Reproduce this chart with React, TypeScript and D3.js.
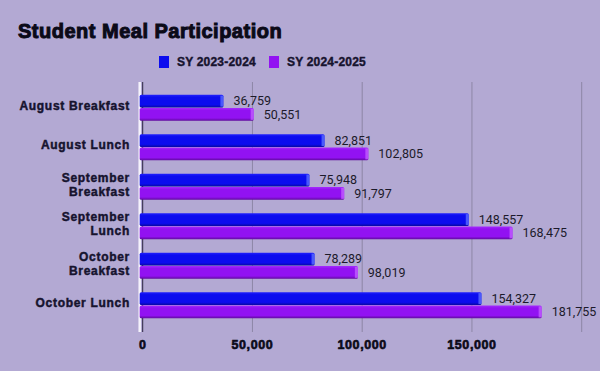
import React, { useEffect, useRef } from "react";
import * as d3 from "d3";

const categories = [
  "August Breakfast",
  "August Lunch",
  "September Breakfast",
  "September Lunch",
  "October Breakfast",
  "October Lunch",
];

// how each category label wraps in the picture
const categoryLines = [
  ["August Breakfast"],
  ["August Lunch"],
  ["September", "Breakfast"],
  ["September", "Lunch"],
  ["October", "Breakfast"],
  ["October Lunch"],
];

const seriesNames = ["SY 2023-2024", "SY 2024-2025"];
const sy2324 = [36759, 82851, 75948, 148557, 78289, 154327];
const sy2425 = [50551, 102805, 91797, 168475, 98019, 181755];
const xTicks = [0, 50000, 100000, 150000, 200000];
const xTickLabels = ["0", "50,000", "100,000", "150,000", ""];

const App: React.FC = () => {
  const svgRef = useRef<SVGSVGElement | null>(null);

  useEffect(() => {
    const width = 600;
    const height = 371;
    const boldFont = "'Liberation Sans', Arial, sans-serif";
    const textColor = "#16132e";

    const svg = d3.select(svgRef.current).attr("width", width).attr("height", height);
    svg.selectAll("*").remove();

    svg.append("rect").attr("width", width).attr("height", height).attr("fill", "#b3a9d3");

    // gradients for the bevelled bars
    const defs = svg.append("defs");
    const colors = [
      { id: "g0", top: "#2222ff", mid: "#0c0cee", bot: "#0707a0", cap: "#5a6bff" },
      { id: "g1", top: "#a52bff", mid: "#9212f2", bot: "#5e0a9a", cap: "#c25cff" },
    ];
    colors.forEach((c) => {
      const g = defs
        .append("linearGradient")
        .attr("id", c.id)
        .attr("x1", 0)
        .attr("y1", 0)
        .attr("x2", 0)
        .attr("y2", 1);
      g.append("stop").attr("offset", "0%").attr("stop-color", c.top);
      g.append("stop").attr("offset", "20%").attr("stop-color", c.mid);
      g.append("stop").attr("offset", "78%").attr("stop-color", c.mid);
      g.append("stop").attr("offset", "100%").attr("stop-color", c.bot);
    });

    // scales
    const xScale = d3.scaleLinear().domain([0, 200000]).range([142.7, 581.7]);
    const yScale = d3.scaleBand<string>().domain(categories).range([88, 325]).padding(0);
    const ySub = d3
      .scaleBand<string>()
      .domain(seriesNames)
      .range([0, yScale.bandwidth()])
      .paddingInner(0.02)
      .paddingOuter(0.5);

    // title
    svg
      .append("text")
      .attr("x", 18)
      .attr("y", 38)
      .attr("font-family", boldFont)
      .attr("font-weight", "bold")
      .attr("font-size", 20)
      .attr("letter-spacing", 0.5)
      .attr("fill", "#0b0a18")
      .attr("stroke", "#0b0a18")
      .attr("stroke-width", 1)
      .text("Student Meal Participation");

    // legend
    const legendX = [159, 269];
    seriesNames.forEach((name, i) => {
      const lg = svg.append("g").attr("transform", `translate(${legendX[i]}, 56)`);
      lg.append("rect")
        .attr("width", 10)
        .attr("height", 12)
        .attr("fill", i === 0 ? "#0c0cee" : "#9212f2");
      lg.append("text")
        .attr("x", 18)
        .attr("y", 6)
        .attr("dy", "0.35em")
        .attr("font-family", boldFont)
        .attr("font-weight", "bold")
        .attr("font-size", 12)
        .attr("letter-spacing", 0.2)
        .attr("fill", textColor)
        .attr("stroke", textColor)
        .attr("stroke-width", 0.4)
        .text(name);
    });

    // grid lines
    svg
      .append("g")
      .selectAll("line")
      .data(xTicks.slice(1))
      .join("line")
      .attr("x1", (d) => xScale(d))
      .attr("x2", (d) => xScale(d))
      .attr("y1", 82)
      .attr("y2", 332)
      .attr("stroke", "#8d86a6")
      .attr("stroke-width", 1);

    // white edge + zero axis line
    svg
      .append("line")
      .attr("x1", xScale(0) - 3)
      .attr("x2", xScale(0) - 3)
      .attr("y1", 82)
      .attr("y2", 332)
      .attr("stroke", "#f4f2fb")
      .attr("stroke-width", 2.5);
    svg
      .append("line")
      .attr("x1", xScale(0))
      .attr("x2", xScale(0))
      .attr("y1", 82)
      .attr("y2", 332)
      .attr("stroke", "#2a2540")
      .attr("stroke-width", 1);

    // x tick labels
    svg
      .append("g")
      .selectAll("text")
      .data(xTicks)
      .join("text")
      .attr("x", (d) => xScale(d))
      .attr("y", 345)
      .attr("dy", "0.35em")
      .attr("text-anchor", "middle")
      .attr("font-family", boldFont)
      .attr("font-weight", "bold")
      .attr("font-size", 12.5)
      .attr("letter-spacing", 0.6)
      .attr("fill", "#0b0a18")
      .attr("stroke", "#0b0a18")
      .attr("stroke-width", 0.6)
      .text((d, i) => xTickLabels[i]);

    // category labels
    categories.forEach((cat, i) => {
      const lines = categoryLines[i];
      const cy = yScale(cat)! + yScale.bandwidth() / 2 - 2;
      const t = svg
        .append("text")
        .attr("x", 130)
        .attr("text-anchor", "end")
        .attr("font-family", boldFont)
        .attr("font-weight", "bold")
        .attr("font-size", 12)
        .attr("letter-spacing", 0.7)
        .attr("fill", textColor)
        .attr("stroke", textColor)
        .attr("stroke-width", 0.45);
      lines.forEach((line, j) => {
        t.append("tspan")
          .attr("x", 130)
          .attr("y", cy + (j - (lines.length - 1) / 2) * 14)
          .attr("dy", "0.35em")
          .text(line);
      });
    });

    // bars
    const allSeries = [sy2324, sy2425];
    allSeries.forEach((values, s) => {
      const g = svg.append("g");
      values.forEach((v, i) => {
        const y0 = yScale(categories[i])! + ySub(seriesNames[s])!;
        const h = ySub.bandwidth();
        const x0 = xScale(0) - 3;
        const x1 = xScale(v);
        g.append("rect")
          .attr("x", x0)
          .attr("y", y0)
          .attr("width", x1 - x0)
          .attr("height", h)
          .attr("rx", 1.5)
          .attr("fill", `url(#g${s})`);
        g.append("rect")
          .attr("x", x1 - 3)
          .attr("y", y0 + 1)
          .attr("width", 3)
          .attr("height", h - 2)
          .attr("fill", colors[s].cap)
          .attr("opacity", 0.8);
        g.append("text")
          .attr("x", x1 + 10)
          .attr("y", y0 + h / 2)
          .attr("dy", "0.35em")
          .attr("font-family", "Roboto, sans-serif")
          .attr("font-size", 12.5)
          .attr("fill", "#1c1a2a")
          .text(d3.format(",")(v));
      });
    });
  }, []);

  return (
    <div style={{ position: "fixed", left: 0, top: 0 }}>
      <svg ref={svgRef} style={{ display: "block" }}></svg>
    </div>
  );
};

export default App;
